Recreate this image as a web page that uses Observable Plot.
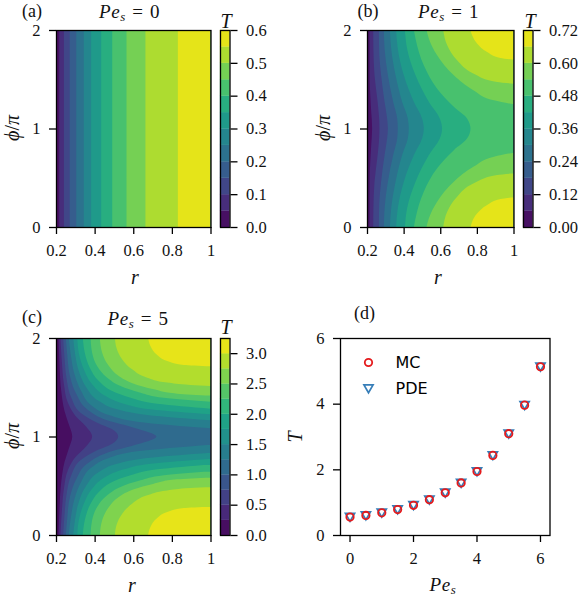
<!DOCTYPE html>
<html><head><meta charset="utf-8">
<script src="https://cdn.jsdelivr.net/npm/d3@7"></script>
<script src="https://cdn.jsdelivr.net/npm/@observablehq/plot@0.6"></script>
<style>
html,body{margin:0;padding:0;background:#fff;overflow:hidden}
#page{position:relative;width:581px;height:595px;overflow:hidden;background:#fff;font-family:"Liberation Serif",serif;color:#111}
#page svg{position:absolute;overflow:visible}
.lab{position:absolute;white-space:nowrap;transform:translate(-50%,-50%);line-height:1}
.lab sub{font-size:.68em;vertical-align:baseline;position:relative;top:.2em;line-height:0}
.title{letter-spacing:.6px;word-spacing:1px}
</style></head>
<body><div id="page"></div>
<script>
// Band edges of T for the three contour panels
const levelsA = [0,.05,.1,.15,.2,.25,.3,.35,.4,.45,.5,.55,.6];
const levelsB = [0,.06,.12,.18,.24,.3,.36,.42,.48,.54,.6,.66,.72];
const levelsC = [0,.25,.5,.75,1,1.25,1.5,1.75,2,2.25,2.5,2.75,3,3.25];

// Level curves: [phi/pi, r] for phi in 0..1, one list per level above the lowest
const curvesA = [
 [[0,.217],[1,.217]],[[0,.241],[1,.241]],[[0,.271],[1,.271]],[[0,.305],[1,.305]],
 [[0,.344],[1,.344]],[[0,.382],[1,.382]],[[0,.434],[1,.434]],[[0,.491],[1,.491]],
 [[0,.565],[1,.565]],[[0,.663],[1,.663]],[[0,.831],[1,.831]]
];
const curvesB = [
 [[0,.214],[.5,.215],[.83,.223],[1,.228]],
 [[0,.234],[.19,.235],[.46,.241],[.697,.256],[.866,.265],[1,.268]],
 [[0,.265],[.19,.266],[.46,.277],[.73,.296],[.9,.31],[1,.314]],
 [[0,.292],[.19,.296],[.46,.314],[.73,.343],[.9,.365],[1,.368]],
 [[0,.325],[.19,.332],[.46,.356],[.73,.392],[.9,.423],[1,.428]],
 [[0,.359],[.19,.368],[.46,.401],[.73,.456],[.9,.501],[1,.51]],
 [[0,.407],[.19,.419],[.46,.465],[.73,.538],[.9,.598],[1,.61]],
 [[0,.456],[.088,.465],[.359,.51],[.596,.583],[.78,.674],[.9,.747],[1,.765]],
 [[0,.525],[.088,.538],[.257,.583],[.46,.674],[.613,.783],[.714,.893],[.755,1.002]],
 [[0,.616],[.156,.638],[.308,.692],[.443,.783],[.528,.911],[.545,1.002]],
 [[0,.765],[.054,.774],[.139,.802],[.223,.856],[.284,.929],[.301,1.002]]
];
const curvesC = [
 [[0,.213],[.267,.218],[.538,.227],[.741,.244],[.876,.266],[1,.284]],
 [[0,.223],[.234,.23],[.47,.241],[.656,.261],[.792,.301],[.893,.353],[1,.387]],
 [[0,.237],[.2,.244],[.403,.254],[.606,.279],[.758,.327],[.86,.413],[.927,.491],[1,.522]],
 [[0,.251],[.166,.258],[.386,.272],[.572,.306],[.724,.361],[.836,.465],[.91,.603],[1,.72]],
 [[0,.266],[.149,.275],[.369,.296],[.538,.33],[.69,.387],[.782,.474],[.849,.62],[.917,1.002]],
 [[0,.289],[.149,.298],[.335,.318],[.504,.358],[.64,.422],[.724,.517],[.782,.672],[.836,1.002]],
 [[0,.31],[.149,.318],[.318,.344],[.47,.387],[.589,.456],[.667,.551],[.724,.689],[.775,1.002]],
 [[0,.339],[.149,.349],[.301,.375],[.437,.422],[.538,.491],[.606,.586],[.667,.724],[.717,1.002]],
 [[0,.379],[.149,.387],[.284,.413],[.403,.465],[.487,.534],[.555,.638],[.606,.758],[.646,1.002]],
 [[0,.427],[.149,.439],[.284,.474],[.386,.525],[.464,.603],[.521,.707],[.565,.827],[.585,1.002]],
 [[0,.505],[.098,.513],[.217,.543],[.318,.594],[.403,.672],[.453,.776],[.477,.896],[.487,1.002]],
 [[0,.677],[.081,.689],[.173,.724],[.234,.776],[.274,.862],[.288,1.002]]
];

// Panel (d)
const pe   = [0,.5,1,1.5,2,2.5,3,3.5,4,4.5,5,5.5,6];
const tMC  = [.56,.61,.69,.79,.92,1.09,1.3,1.6,1.95,2.44,3.1,3.97,5.14];
const tPDE = [.56,.61,.69,.79,.92,1.09,1.3,1.6,1.95,2.44,3.1,3.97,5.14];
const legendNames = ["MC","PDE"];

// Tick labels
const rTicks = [.2,.4,.6,.8,1];
const phiTicks = [0,1,2];
const barTicksA = [0,.1,.2,.3,.4,.5,.6];
const barTicksB = [0,.12,.24,.36,.48,.6,.72];
const barTicksC = [0,.5,1,1.5,2,2.5,3];
const dTicks = [0,2,4,6];

const page = document.getElementById("page");
const serif = "'Liberation Serif', serif";
const tickFont = 16.5, lw = 1.3, ink = "#111";

function place(svg, left, top){ svg.style.left = left + "px"; svg.style.top = top + "px"; page.appendChild(svg); }
function label(html, x, y, size, rotate, cls){
  const el = document.createElement("div");
  el.className = "lab" + (cls ? " " + cls : ""); el.innerHTML = html;
  el.style.left = x + "px"; el.style.top = y + "px"; el.style.fontSize = size + "px";
  if (rotate) el.style.transform = "translate(-50%,-50%) rotate(-90deg)";
  page.appendChild(el);
}
function style(){ return {background:"transparent", fontFamily:serif, fontSize:tickFont + "px", color:ink}; }

function bandRows(levels, curves){
  const rows = [];
  const add = (id, lo, hi, pts) => pts.forEach(([phi,r]) => rows.push({id, phi, r, end:1, mid:(lo+hi)/2}));
  [[[0,.2],[1,.2]], ...curves].forEach((pts,i) => {
    const lo = levels[i], hi = levels[i+1];
    const mirrored = pts.map(([p,r]) => [2-p,r]).reverse();
    if (pts[pts.length-1][0] === 1) add(i+"", lo, hi, [...pts, ...mirrored.slice(1)]);
    else { add(i+"a", lo, hi, pts); add(i+"b", lo, hi, mirrored); }
  });
  return rows;
}

function contourPanel(levels, curves, left, top, w, h){
  const ml = 50, mt = 10, mb = 45, mr = 5;
  const svg = Plot.plot({
    width: ml+w+mr, height: mt+h+mb, marginLeft: ml, marginRight: mr, marginTop: mt, marginBottom: mb,
    style: style(),
    x: {domain:[.2,1]}, y: {domain:[0,2]},
    color: {type:"linear", domain:[0,levels[levels.length-1]], scheme:"viridis"},
    marks: [
      Plot.areaX(bandRows(levels,curves), {y:"phi", x1:"r", x2:"end", z:"id", fill:"mid", curve:"monotone-y", clip:true}),
      Plot.frame({stroke:"black", strokeWidth:lw}),
      Plot.axisX({ticks:rTicks, tickSize:7, tickPadding:10, strokeWidth:lw, stroke:"black", label:null,
        tickFormat:d => d===1 ? "1" : d.toFixed(1)}),
      Plot.axisY({ticks:phiTicks, tickSize:7, tickPadding:9, strokeWidth:lw, stroke:"black", label:null, tickFormat:d => d+""})
    ]
  });
  place(svg, left-ml, top-mt);
}

function colorbar(levels, ticks, digits, left, top, w, h){
  const ml = 2, mr = 50, mt = 10, mb = 10;
  const bands = levels.slice(0,-1).map((lo,i) => ({lo, hi:levels[i+1], mid:(lo+levels[i+1])/2}));
  const svg = Plot.plot({
    width: ml+w+mr, height: mt+h+mb, marginLeft: ml, marginRight: mr, marginTop: mt, marginBottom: mb,
    style: style(),
    x: {domain:[0,1], axis:null},
    y: {domain:[0,levels[levels.length-1]]},
    color: {type:"linear", domain:[0,levels[levels.length-1]], scheme:"viridis"},
    marks: [
      Plot.rect(bands, {x1:() => 0, x2:() => 1, y1:"lo", y2:"hi", fill:"mid", stroke:"mid", strokeWidth:.3}),
      Plot.frame({stroke:"black", strokeWidth:lw}),
      Plot.axisY({anchor:"right", ticks, tickSize:7, tickPadding:9, strokeWidth:lw, stroke:"black", label:null,
        tickFormat:d => d.toFixed(digits)})
    ]
  });
  place(svg, left-ml, top-mt);
}

function scatterPanel(left, top, w, h){
  const ml = 50, mt = 10, mb = 45, mr = 5;
  const rows = pe.map((p,i) => ({p, mc:tMC[i], pde:tPDE[i]}));
  const blue = "#377eb8", red = "#e41a1c";
  const sans = "'DejaVu Sans', sans-serif";
  const svg = Plot.plot({
    width: ml+w+mr, height: mt+h+mb, marginLeft: ml, marginRight: mr, marginTop: mt, marginBottom: mb,
    style: style(),
    x: {domain:[-.3,6.3]}, y: {domain:[0,6]},
    marks: [
      Plot.dot(rows, {x:"p", y:"pde", symbol:"triangle", rotate:180, r:3.4, stroke:blue, strokeWidth:1.7, fill:"none", dy:-1}),
      Plot.dot(rows, {x:"p", y:"mc", r:3.7, stroke:red, strokeWidth:1.8, fill:"none"}),
      Plot.dot([legendNames[0]], {frameAnchor:"top-left", dx:28, dy:24, r:3.7, stroke:red, strokeWidth:1.8, fill:"none"}),
      Plot.dot([legendNames[1]], {frameAnchor:"top-left", dx:28, dy:49, symbol:"triangle", rotate:180, r:3.4, stroke:blue, strokeWidth:1.7, fill:"none"}),
      Plot.text([legendNames[0]], {text:d => d, frameAnchor:"top-left", dx:55, dy:24, textAnchor:"start", lineAnchor:"middle", fontFamily:sans, fontSize:16, fill:"#000"}),
      Plot.text([legendNames[1]], {text:d => d, frameAnchor:"top-left", dx:55, dy:50, textAnchor:"start", lineAnchor:"middle", fontFamily:sans, fontSize:16, fill:"#000"}),
      Plot.frame({stroke:"black", strokeWidth:lw}),
      Plot.axisX({ticks:dTicks, tickSize:7, tickPadding:10, strokeWidth:lw, stroke:"black", label:null, tickFormat:d => d+""}),
      Plot.axisY({ticks:dTicks, tickSize:7, tickPadding:9, strokeWidth:lw, stroke:"black", label:null, tickFormat:d => d+""})
    ]
  });
  place(svg, left-ml, top-mt);
}

const W = 154.5, W2 = 146.5, H = 197;
contourPanel(levelsA, curvesA, 55.5, 30, W, H);
colorbar(levelsA, barTicksA, 1, 220, 30, 9.5, H);
contourPanel(levelsB, curvesB, 366.5, 30, W2, H);
colorbar(levelsB, barTicksB, 2, 522.5, 30, 9.5, H);
contourPanel(levelsC, curvesC, 55.5, 338, W, H);
colorbar(levelsC, barTicksC, 1, 220, 338, 9.5, H);
scatterPanel(339.5, 338, 209.5, H);

const phiLabel = "<i>ϕ</i>/<i>π</i>", peS = s => `<i>Pe<sub>s</sub></i> = ${s}`;
label("(a)", 32, 11, 18);
label("(b)", 368, 11, 18);
label("(c)", 32, 317, 18);
label("(d)", 364.5, 313, 18);
label(peS(0), 129.5, 11, 19, false, "title");
label(peS(1), 448.5, 11, 19, false, "title");
label(peS(5), 138, 318, 19, false, "title");
label("<i>T</i>", 226, 21, 20);
label("<i>T</i>", 530, 21, 20);
label("<i>T</i>", 226, 327, 20);
label("<i>r</i>", 135, 277, 20);
label("<i>r</i>", 438, 277, 20);
label("<i>r</i>", 132, 585, 20);
label("<i>Pe<sub>s</sub></i>", 443, 584, 19, false, "title");
label(phiLabel, 12, 128, 20, true);
label(phiLabel, 323, 128, 20, true);
label(phiLabel, 12, 436, 20, true);
label("<i>T</i>", 295, 437, 20, true);
</script></body></html>
